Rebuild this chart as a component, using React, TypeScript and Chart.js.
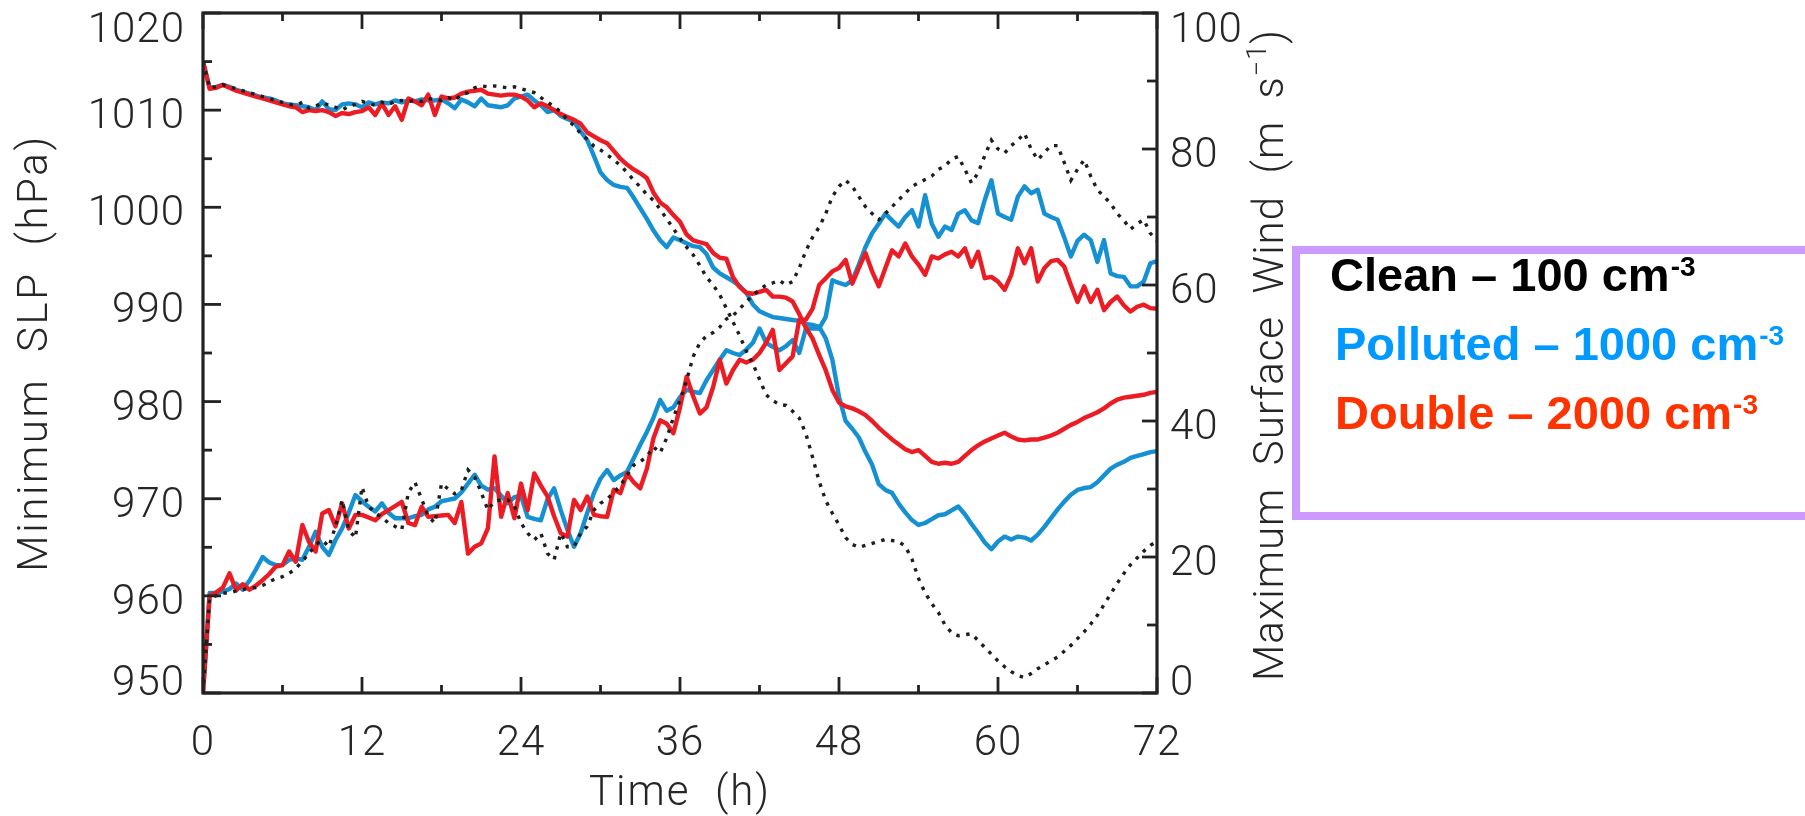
import React, { useEffect, useRef } from "react";
import { Chart, registerables } from "chart.js";

Chart.register(...registerables);

// ---- sampling grid (hours) ----
const hours = [
  0, 0.5, 1, 1.5, 2, 2.5, 3, 3.5, 4, 4.5, 5, 5.5, 6, 6.5, 7, 7.5, 8, 8.5, 9, 9.5,
  10, 10.5, 11, 11.5, 12, 12.5, 13, 13.5, 14, 14.5, 15, 15.5, 16, 16.5, 17, 17.5, 18, 18.5, 19, 19.5,
  20, 20.5, 21, 21.5, 22, 22.5, 23, 23.5, 24, 24.5, 25, 25.5, 26, 26.5, 27, 27.5, 28, 28.5, 29, 29.5,
  30, 30.5, 31, 31.5, 32, 32.5, 33, 33.5, 34, 34.5, 35, 35.5, 36, 36.5, 37, 37.5, 38, 38.5, 39, 39.5,
  40, 40.5, 41, 41.5, 42, 42.5, 43, 43.5, 44, 44.5, 45, 45.5, 46, 46.5, 47, 47.5, 48, 48.5, 49, 49.5,
  50, 50.5, 51, 51.5, 52, 52.5, 53, 53.5, 54, 54.5, 55, 55.5, 56, 56.5, 57, 57.5, 58, 58.5, 59, 59.5,
  60, 60.5, 61, 61.5, 62, 62.5, 63, 63.5, 64, 64.5, 65, 65.5, 66, 66.5, 67, 67.5, 68, 68.5, 69, 69.5,
  70, 70.5, 71, 71.5, 72,
];

// ---- Minimum SLP (hPa) ----
const cleanSlp = [
  1015.0, 1012.3, 1012.4, 1012.6, 1012.4, 1012.2, 1012.0, 1011.8, 1011.6, 1011.4,
  1011.2, 1011.0, 1010.8, 1010.6, 1010.5, 1010.8, 1010.2, 1010.4, 1010.8, 1010.5,
  1010.3, 1010.0, 1010.4, 1010.6, 1010.9, 1010.7, 1010.5, 1010.8, 1010.6, 1010.9,
  1011.0, 1010.9, 1011.0, 1010.9, 1011.2, 1011.1, 1011.0, 1011.3, 1011.0, 1011.6,
  1011.8, 1012.3, 1012.5, 1012.4, 1012.5, 1012.4, 1012.3, 1012.4, 1012.2, 1012.0,
  1011.8, 1011.3, 1010.8, 1010.4, 1009.8, 1009.0, 1008.4, 1007.6, 1007.0, 1006.3,
  1005.9, 1005.4, 1004.9, 1004.3, 1003.6, 1002.8, 1002.1, 1001.3, 1000.7, 999.8,
  998.8, 997.8, 996.8, 995.9, 995.1, 994.0, 992.8, 992.0, 991.0, 989.6,
  988.2, 986.8, 985.2, 983.9, 982.3, 980.7, 980.1, 979.7, 979.6, 979.0,
  978.3, 976.7, 974.3, 971.8, 969.8, 968.5, 967.3, 966.0, 965.3, 965.0,
  965.2, 965.4, 965.6, 965.8, 965.7, 965.6, 965.1, 963.8, 961.8, 960.3,
  959.2, 958.3, 957.0, 956.2, 955.9, 956.0, 956.1, 955.4, 954.7, 954.0,
  953.3, 952.7, 952.2, 951.8, 951.6, 952.0, 952.5, 952.9, 953.3, 953.7,
  954.3, 954.9, 955.6, 956.3, 957.1, 958.0, 959.1, 960.2, 961.3, 962.3,
  963.2, 963.9, 964.6, 965.2, 965.6,
];
const pollutedSlp = [
  1015.0, 1012.3, 1012.4, 1012.6, 1012.4, 1012.1, 1011.9, 1011.7, 1011.5, 1011.3,
  1011.2, 1011.0, 1010.7, 1010.6, 1010.5, 1010.4, 1010.3, 1010.0, 1010.9, 1010.1,
  1010.0, 1010.6, 1010.7, 1010.6, 1010.3, 1010.8, 1010.6, 1010.8, 1010.7, 1011.0,
  1010.8, 1011.0, 1010.9, 1011.1, 1011.0, 1011.0, 1011.1, 1010.7, 1010.2, 1011.1,
  1010.8, 1010.4, 1011.2, 1010.5, 1010.4, 1010.3, 1010.5, 1011.2, 1011.4, 1011.6,
  1011.0, 1010.5, 1009.8, 1010.0, 1009.4, 1009.1, 1008.8, 1007.8, 1006.9, 1005.3,
  1003.6, 1002.8, 1002.3, 1002.1, 1002.0, 1001.0, 999.9, 998.8, 997.6, 996.6,
  995.9, 996.9, 996.6, 996.3, 996.0, 995.9, 995.2, 993.8, 993.2, 992.8,
  992.4, 991.9, 991.2, 990.0, 989.3, 989.0, 988.7, 988.6, 988.5, 988.4,
  988.3, 988.0, 987.9, 987.7, 986.5, 984.3, 980.5, 978.0, 977.2, 976.3,
  974.8, 973.5, 971.5, 970.9, 970.6, 969.5, 968.6, 967.8, 967.3, 967.5,
  967.9, 968.3, 968.4, 968.8, 969.2, 968.4, 967.4, 966.5, 965.5, 964.8,
  965.6, 966.1, 965.8, 966.1, 966.0, 965.7, 966.3, 967.1, 968.0, 968.9,
  969.7, 970.4, 970.9, 971.1, 971.2, 971.7, 972.4, 973.1, 973.5, 973.8,
  974.2, 974.4, 974.6, 974.8, 974.9,
];
const doubleSlp = [
  1015.0, 1012.2, 1012.3, 1012.6, 1012.3, 1012.0, 1011.8, 1011.6, 1011.4, 1011.2,
  1011.0, 1010.8, 1010.6, 1010.4, 1010.3, 1009.8, 1010.0, 1009.9, 1010.0, 1009.8,
  1009.4, 1009.7, 1009.6, 1009.8, 1009.9, 1010.3, 1009.5, 1010.7, 1009.5, 1010.4,
  1009.0, 1011.2, 1010.9, 1010.5, 1011.6, 1009.5, 1011.4, 1011.2, 1011.3, 1011.7,
  1011.9, 1012.0, 1012.1, 1011.7, 1011.6, 1011.5, 1011.6, 1011.6, 1011.4, 1011.0,
  1010.3, 1010.7, 1010.4, 1010.0, 1009.6, 1009.3, 1009.0, 1008.6, 1007.7, 1007.3,
  1006.9, 1006.6, 1005.8, 1005.0, 1004.4, 1003.9, 1003.5, 1003.0, 1001.5, 1000.5,
  1000.0, 999.2, 998.5, 997.2, 996.6, 996.4, 996.2, 995.3, 994.8, 994.7,
  992.8, 991.8, 991.2, 991.1, 991.3, 991.5, 990.8, 990.8, 990.7, 990.3,
  989.0, 987.6, 986.5, 984.8, 983.2, 981.2, 979.9, 979.5, 979.3, 979.0,
  978.6, 978.0, 977.3, 976.7, 976.1, 975.6, 975.1, 974.8, 975.0, 974.4,
  973.8, 973.6, 973.7, 973.6, 973.8, 974.4, 975.0, 975.5, 975.9, 976.2,
  976.5, 976.8, 976.4, 976.1, 976.0, 976.1, 976.1, 976.3, 976.5, 976.8,
  977.2, 977.6, 977.9, 978.3, 978.6, 978.9, 979.3, 979.8, 980.2, 980.4,
  980.5, 980.6, 980.7, 980.9, 981.0,
];

// ---- Maximum surface wind (m s-1) ----
const cleanWind = [
  0, 14.0, 14.3, 14.7, 14.7, 15.0, 15.2, 15.4, 15.5, 15.8,
  16.4, 16.8, 17.1, 17.6, 18.3, 19.4, 20.5, 21.8, 22.5, 21.5,
  24.5, 28.4, 24.0, 22.8, 30.3, 27.4, 26.5, 25.8, 25.0, 24.5,
  24.0, 29.5, 31.0, 28.5, 26.0, 25.0, 30.8, 30.0, 29.3, 29.8,
  32.8, 31.8, 29.5, 26.9, 28.2, 28.4, 28.4, 27.5, 25.0, 23.5,
  22.5, 23.5, 20.5, 19.6, 23.5, 21.5, 21.5, 23.5, 24.5, 26.9,
  27.9, 28.5, 29.5, 30.5, 32.0, 33.5, 34.0, 34.8, 36.2, 35.3,
  37.5, 40.5, 43.1, 46.0, 49.5, 51.5, 52.5, 53.0, 53.8, 55.0,
  55.5, 56.5, 57.5, 58.5, 59.3, 60.0, 60.3, 60.7, 60.0, 60.5,
  62.5, 65.0, 67.0, 68.5, 70.5, 73.0, 74.5, 75.4, 74.5, 73.0,
  71.5, 70.5, 69.6, 70.5, 71.5, 72.5, 73.5, 74.5, 75.0, 75.5,
  76.0, 77.0, 77.5, 78.5, 78.9, 77.0, 75.0, 76.5, 79.0, 81.3,
  80.0, 79.4, 80.5, 81.3, 82.3, 80.0, 78.4, 79.5, 80.5, 80.5,
  78.0, 75.4, 77.0, 78.4, 76.0, 74.0, 73.0, 72.0, 70.5, 69.5,
  68.2, 69.0, 69.6, 67.6, 66.5,
];
const pollutedWind = [
  0, 14.7, 14.7, 14.9, 15.3, 16.1, 15.2, 16.5, 18.2, 20.0,
  19.2, 18.8, 18.8, 19.6, 19.8, 19.6, 21.5, 23.7, 21.5, 20.3,
  22.5, 24.2, 26.5, 29.1, 28.2, 27.4, 26.7, 27.9, 26.5, 25.7,
  25.7, 25.7, 26.0, 26.2, 27.0, 27.4, 28.2, 28.4, 28.6, 29.5,
  30.8, 32.1, 30.5, 29.9, 30.1, 29.0, 27.9, 28.8, 29.0, 25.9,
  25.6, 25.4, 28.5, 30.1, 26.9, 24.0, 21.5, 23.5, 26.5, 29.4,
  31.5, 32.8, 31.3, 32.0, 32.5, 34.5, 36.5, 38.4, 40.5, 43.1,
  41.5, 42.0, 43.5, 44.6, 44.3, 44.1, 46.0, 47.5, 49.0, 50.4,
  50.0, 49.7, 50.5, 51.5, 53.6, 51.5, 50.9, 50.4, 51.0, 51.9,
  50.0, 53.6, 53.6, 53.6, 55.3, 60.7, 60.3, 60.0, 60.7, 63.0,
  65.6, 67.6, 69.0, 70.5, 69.5, 68.6, 70.0, 71.0, 68.6, 73.2,
  69.0, 67.1, 68.6, 68.1, 70.5, 71.0, 69.5, 69.1, 72.5, 75.4,
  70.5, 70.0, 69.6, 73.0, 74.5, 73.5, 74.0, 70.5, 70.0, 69.6,
  67.0, 64.2, 66.5, 67.4, 66.6, 63.4, 66.6, 61.7, 61.3, 61.2,
  59.8, 59.8, 60.5, 63.2, 63.5,
];
const doubleWind = [
  0, 14.3, 14.8, 15.5, 17.6, 15.1, 16.0, 15.2, 15.8, 16.6,
  17.5, 18.6, 18.8, 20.8, 19.3, 24.7, 22.2, 20.8, 26.4, 26.9,
  24.5, 27.9, 24.2, 26.2, 26.2, 25.8, 25.4, 26.3, 26.9, 27.5,
  28.1, 25.0, 24.7, 27.4, 25.9, 26.0, 26.1, 26.2, 25.0, 28.1,
  20.5, 21.5, 22.0, 24.2, 34.8, 25.9, 29.4, 25.7, 30.8, 26.9,
  32.3, 30.5, 28.9, 26.0, 23.5, 23.0, 28.4, 26.9, 28.9, 26.2,
  26.0, 25.9, 29.9, 29.4, 32.3, 31.0, 30.1, 33.0, 37.5, 40.1,
  39.6, 38.2, 42.0, 46.5, 43.6, 41.1, 42.0, 45.0, 49.0, 45.5,
  47.5, 49.0, 48.6, 49.0, 50.0, 51.5, 53.4, 47.5, 48.5, 49.5,
  54.9, 54.9, 56.5, 60.0, 61.0, 62.0, 62.5, 63.7, 60.2, 62.5,
  64.7, 62.0, 59.8, 62.5, 65.1, 64.2, 66.1, 64.2, 63.0, 61.5,
  64.2, 63.9, 64.5, 64.9, 64.2, 65.4, 62.7, 64.9, 61.0, 61.2,
  60.5, 59.3, 61.5, 65.4, 63.2, 65.4, 60.5, 62.5, 63.5, 63.7,
  62.7, 60.0, 57.5, 59.8, 57.5, 59.3, 56.3, 57.5, 58.3, 57.0,
  56.1, 56.8, 57.1, 56.6, 56.5,
];

// ---- axes ticks & labels ----
const slpTicks = [950, 960, 970, 980, 990, 1000, 1010, 1020];
const slpMinorTicks = [955, 965, 975, 985, 995, 1005, 1015];
const windTicks = [0, 20, 40, 60, 80, 100];
const windMinorTicks = [10, 30, 50, 70, 90];
const timeTicks = [0, 12, 24, 36, 48, 60, 72];
const timeMinorTicks = [6, 18, 30, 42, 54, 66];

const xTitle = "Time  (h)";
const leftTitle = "Minimum  SLP  (hPa)";
const rightTitleMain = "Maximum  Surface  Wind  (m  s";
const rightTitleSup = "\u22121";
const rightTitleEnd = ")";

const legendLabels = ["Clean \u2013 100 cm", "Polluted \u2013 1000 cm", "Double \u2013 2000 cm"];
const legendSup = "-3";
const legendColors = ["#000000", "#0099ff", "#ff3300"];

const CLEAN_COLOR = "#1e1e1e";
const POLLUTED_COLOR = "#1590d2";
const DOUBLE_COLOR = "#ec1c24";

const AXIS_FONT = "300 42px Roboto, 'Liberation Sans', sans-serif";
const SUP_FONT = "300 27px Roboto, 'Liberation Sans', sans-serif";
const LEGEND_FONT = "bold 47px 'Liberation Sans', Arial, sans-serif";
const LEGEND_SUP_FONT = "bold 28px 'Liberation Sans', Arial, sans-serif";

const pts = (vals: number[]) => hours.map((h, i) => ({ x: h, y: vals[i] }));

const setSpacing = (ctx: any, v: string) => {
  if ("letterSpacing" in ctx) ctx.letterSpacing = v;
};

const idlAxes = {
  id: "idlAxes",
  afterDatasetsDraw(chart: any) {
    const { ctx, chartArea: a, scales } = chart;
    const sx = scales.x;
    const sy = scales.y;
    const sy2 = scales.y2;
    ctx.save();
    ctx.strokeStyle = "#222";
    ctx.fillStyle = "#222";
    ctx.lineWidth = 3.2;
    ctx.lineCap = "butt";
    ctx.setLineDash([]);
    ctx.strokeRect(a.left, a.top, a.right - a.left, a.bottom - a.top);

    const seg = (x1: number, y1: number, x2: number, y2: number) => {
      ctx.beginPath();
      ctx.moveTo(x1, y1);
      ctx.lineTo(x2, y2);
      ctx.stroke();
    };
    ctx.lineWidth = 2.8;
    timeTicks.forEach((t) => {
      const px = sx.getPixelForValue(t);
      seg(px, a.bottom, px, a.bottom - 16);
      seg(px, a.top, px, a.top + 16);
    });
    timeMinorTicks.forEach((t) => {
      const px = sx.getPixelForValue(t);
      seg(px, a.bottom, px, a.bottom - 8);
      seg(px, a.top, px, a.top + 8);
    });
    slpTicks.forEach((v) => {
      const py = sy.getPixelForValue(v);
      seg(a.left, py, a.left + 18, py);
    });
    slpMinorTicks.forEach((v) => {
      const py = sy.getPixelForValue(v);
      seg(a.left, py, a.left + 9, py);
    });
    windTicks.forEach((v) => {
      const py = sy2.getPixelForValue(v);
      seg(a.right, py, a.right - 15, py);
    });
    windMinorTicks.forEach((v) => {
      const py = sy2.getPixelForValue(v);
      seg(a.right, py, a.right - 10, py);
    });

    // tick labels
    ctx.font = AXIS_FONT;
    ctx.fillStyle = "#262626";
    ctx.textBaseline = "alphabetic";
    setSpacing(ctx, "1px");
    const baseFor = (py: number) => Math.min(Math.max(py + 18, a.top + 29), a.bottom + 2);
    ctx.textAlign = "right";
    slpTicks.forEach((v) => {
      const py = sy.getPixelForValue(v);
      ctx.fillText(String(v), a.left - 18, baseFor(py));
    });
    ctx.textAlign = "left";
    windTicks.forEach((v) => {
      const py = sy2.getPixelForValue(v);
      ctx.fillText(String(v), a.right + 13, baseFor(py));
    });
    ctx.textAlign = "center";
    timeTicks.forEach((t) => {
      const px = sx.getPixelForValue(t);
      ctx.fillText(String(t), px, a.bottom + 62);
    });

    // axis titles
    setSpacing(ctx, "2px");
    ctx.fillText(xTitle, (a.left + a.right) / 2, a.bottom + 112);
    const midY = (a.top + a.bottom) / 2;
    ctx.save();
    ctx.translate(a.left - 156, midY);
    ctx.rotate(-Math.PI / 2);
    ctx.textAlign = "center";
    setSpacing(ctx, "2.6px");
    ctx.fillText(leftTitle, 0, 0);
    ctx.restore();

    ctx.save();
    ctx.translate(a.right + 126, midY + 2);
    ctx.rotate(-Math.PI / 2);
    ctx.textAlign = "left";
    setSpacing(ctx, "1px");
    ctx.font = AXIS_FONT;
    const wMain = ctx.measureText(rightTitleMain).width;
    ctx.font = SUP_FONT;
    const wSup = ctx.measureText(rightTitleSup).width;
    ctx.font = AXIS_FONT;
    const wEnd = ctx.measureText(rightTitleEnd).width;
    let cx = -(wMain + wSup + wEnd) / 2;
    ctx.fillText(rightTitleMain, cx, 0);
    cx += wMain;
    ctx.font = SUP_FONT;
    ctx.fillText(rightTitleSup, cx, -17);
    cx += wSup;
    ctx.font = AXIS_FONT;
    ctx.fillText(rightTitleEnd, cx, 0);
    ctx.restore();

    // legend box
    setSpacing(ctx, "0px");
    ctx.strokeStyle = "#cc99ff";
    ctx.lineWidth = 8;
    ctx.strokeRect(1296, 250, 700, 266);
    ctx.textAlign = "left";
    const lx = [1330, 1335, 1335];
    const ly = [291, 360, 429];
    legendLabels.forEach((lab, i) => {
      ctx.fillStyle = legendColors[i];
      ctx.font = LEGEND_FONT;
      ctx.fillText(lab, lx[i], ly[i]);
      const w = ctx.measureText(lab).width;
      ctx.font = LEGEND_SUP_FONT;
      ctx.fillText(legendSup, lx[i] + w + 1, ly[i] - 15);
    });
    ctx.restore();
  },
};

export default function App() {
  const ref = useRef<HTMLCanvasElement>(null);
  useEffect(() => {
    document.body.style.margin = "0";
    const canvas = ref.current;
    if (!canvas) return;
    const solid = { pointRadius: 0, tension: 0, borderWidth: 4.4, borderJoinStyle: "round" as const };
    const dotted = { pointRadius: 0, tension: 0, borderWidth: 3.4, borderDash: [3.5, 6.5] };
    const chart = new Chart(canvas, {
      type: "line",
      data: {
        datasets: [
          { label: "Clean SLP", data: pts(cleanSlp), yAxisID: "y", borderColor: CLEAN_COLOR, ...dotted },
          { label: "Clean wind", data: pts(cleanWind), yAxisID: "y2", borderColor: CLEAN_COLOR, ...dotted },
          { label: "Double SLP", data: pts(doubleSlp), yAxisID: "y", borderColor: DOUBLE_COLOR, ...solid },
          { label: "Double wind", data: pts(doubleWind), yAxisID: "y2", borderColor: DOUBLE_COLOR, ...solid },
          { label: "Polluted SLP", data: pts(pollutedSlp), yAxisID: "y", borderColor: POLLUTED_COLOR, ...solid },
          { label: "Polluted wind", data: pts(pollutedWind), yAxisID: "y2", borderColor: POLLUTED_COLOR, ...solid },
        ],
      },
      options: {
        responsive: false,
        animation: false,
        devicePixelRatio: 1,
        layout: { padding: { left: 203, top: 13, right: 648, bottom: 123 } },
        plugins: { legend: { display: false }, tooltip: { enabled: false } },
        scales: {
          x: { type: "linear", min: 0, max: 72, display: false },
          y: { type: "linear", min: 950, max: 1020, display: false },
          y2: { type: "linear", min: 0, max: 100, display: false, position: "right" },
        },
      },
      plugins: [idlAxes],
    });
    if ((document as any).fonts && (document as any).fonts.load) {
      (document as any).fonts.load(AXIS_FONT).then(() => chart.draw()).catch(() => {});
    }
    return () => chart.destroy();
  }, []);
  return (
    <div style={{ position: "absolute", left: 0, top: 0, width: 1805, height: 816, background: "#fff" }}>
      <canvas ref={ref} width={1805} height={816} style={{ display: "block", width: 1805, height: 816 }} />
    </div>
  );
}
